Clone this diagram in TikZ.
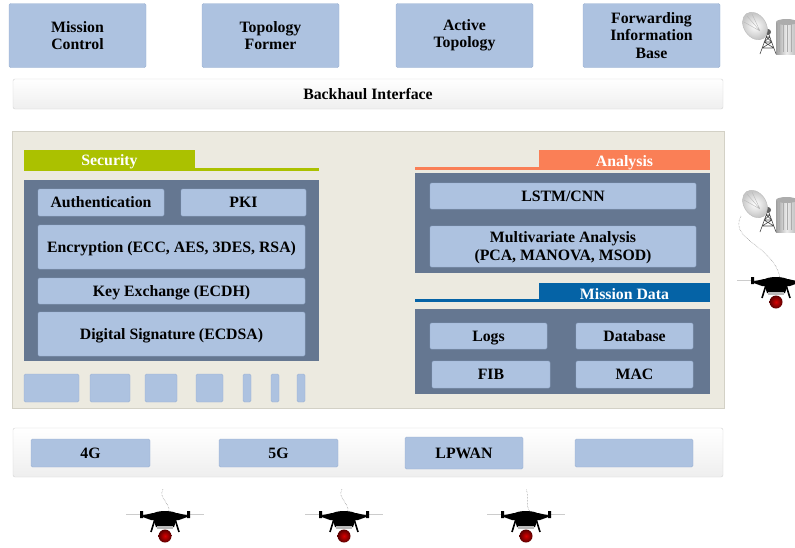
\documentclass[tikz,border=0pt]{standalone}
\usepackage{fontspec}
\setmainfont{Liberation Serif}
\definecolor{cellblue}{HTML}{ADC2E0}
\definecolor{celledge}{HTML}{9CB2D3}
\definecolor{slate}{HTML}{657791}
\definecolor{sand}{HTML}{ECEAE0}
\definecolor{sandedge}{HTML}{D3D1C6}
\definecolor{lime}{HTML}{ABC100}
\definecolor{coral}{HTML}{FA7F56}
\definecolor{ocean}{HTML}{0563A6}

\tikzset{
  % quadcopter, origin on the rotor plane
  drone/.pic={
    \draw[gray!40,line width=0.8pt] (-39,-1) -- (39,-1);
    \fill[black] (-25,-4) rectangle (-22,3) (22,-4) rectangle (25,3);
    \fill[black] (-25,1) -- (-12,-2) -- (12,-2) -- (25,1) -- (14,5) -- (-14,5) -- cycle;
    \fill[black] (-13,-1) .. controls (-8,-5) and (8,-5) .. (13,-1) -- cycle;
    \fill[black] (-12,3) -- (12,3) -- (9,12) -- (-9,12) -- cycle;
    \draw[black,line width=1.6pt] (-10,4) -- (-14,17) (10,4) -- (14,17);
    \fill[gray!55] (-8,11) rectangle (8,14);
    \shade[inner color=red!85!black,outer color=red!35!black] (0,21) circle (6.5);
    \coordinate (-top) at (4,-3);
  },
  % ground station: dish on a mast next to a server drum
  station/.pic={
    \shade[left color=gray!75,right color=gray!55,middle color=gray!15] (21,-4) rectangle (42,28);
    \foreach \u in {24,28,...,40} \draw[gray!65,line width=0.5pt] (\u,-2) -- (\u,26);
    \fill[gray!65] (31.5,-4) ellipse (10.5 and 3);
    \draw[gray!60!black,line width=0.6pt] (5,28) -- (13,6) -- (21,28)
      (7,22) -- (19,22) (9,16) -- (17,16) (11,11) -- (15,11)
      (7,22) -- (17,16) (19,22) -- (9,16) (9,16) -- (15,11) (17,16) -- (11,11);
    \fill[gray!75!black] (13,6) circle (3);
    \shade[inner color=white,outer color=gray!45,rotate=-55] (0,0) ellipse (15 and 11);
    \draw[gray!55,line width=0.4pt,rotate=-55] (0,0) ellipse (15 and 11);
    \draw[gray!55,line width=0.4pt] (-8,-10) -- (5,5) (-3,-12) -- (5,5) (-11,-4) -- (5,5);
    \coordinate (-feed) at (-14,12);
  }
}

\begin{document}
\begin{tikzpicture}[x=1pt,y=-1pt,
    cell/.style={fill=cellblue,draw=celledge,line width=0.4pt,rounded corners=1.5pt,inner sep=0pt,
      align=center,font=\bfseries\fontsize{15.8}{17.5}\selectfont,text height=10.2pt,text depth=0pt},
    multi/.style={text height=,text depth=},
    tray/.style={fill=slate,inner sep=0pt},
    rail/.style={draw=gray!35,rounded corners=2pt,top color=white,bottom color=gray!13,inner sep=0pt,
      font=\bfseries\fontsize{15.8}{17.5}\selectfont,text height=10.2pt,text depth=0pt},
    tab/.style={inner sep=0pt,text=white,font=\bfseries\fontsize{15.8}{17.5}\selectfont,
      text height=13pt,text depth=0pt},
    tether/.style={gray,densely dotted,line width=0.5pt}]
  \useasboundingbox (0,0) rectangle (795,547);

  % top row and backhaul
  \node[cell,multi,minimum width=137,minimum height=64] (mc) at (77.5,35.5) {Mission\\Control};
  \node[cell,multi,minimum width=137,minimum height=64] (tf) at (270.5,35.5) {Topology\\Former};
  \node[cell,multi,minimum width=137,minimum height=64] (at) at (464.5,35.5) {Active\\Topology};
  \node[cell,multi,minimum width=137,minimum height=64] (fib) at (651.5,35.5) {Forwarding\\Information\\Base};
  \node[rail,minimum width=710,minimum height=30] (bh) at (368,94) {Backhaul Interface};

  % middle panel
  \node[fill=sand,draw=sandedge,line width=0.5pt,inner sep=0pt,minimum width=712,minimum height=277] (core) at (368,269.5) {};

  % security block
  \fill[lime] (24,168) rectangle (319,171);
  \node[tab,fill=lime,minimum width=171,minimum height=18] (sec) at (109.5,159) {Security};
  \node[tray,minimum width=295,minimum height=181] (secbox) at (171.5,270.5) {};
  \node[cell,minimum width=126,minimum height=27] (auth) at (101,202.5) {Authentication};
  \node[cell,minimum width=125,minimum height=27] (pki) at (243.5,202.5) {PKI};
  \node[cell,minimum width=267,minimum height=44] (enc) at (171.5,247) {Encryption (ECC, AES, 3DES, RSA)};
  \node[cell,minimum width=267,minimum height=26] (kex) at (171.5,291) {Key Exchange (ECDH)};
  \node[cell,minimum width=267,minimum height=44] (sig) at (171.5,334) {Digital Signature (ECDSA)};
  \foreach \a/\b [count=\i] in {24/79,90/130,145/177,196/223,243/251,271/279,297/305}
    \node[cell,minimum width=\b-\a,minimum height=28] (slot\i) at ({(\a+\b)/2},388) {};

  % analysis block
  \fill[coral] (415,167) rectangle (710,170);
  \node[tab,fill=coral,minimum width=171,minimum height=19] (ana) at (624.5,159.5) {Analysis};
  \node[tray,minimum width=295,minimum height=100] (anabox) at (562.5,223) {};
  \node[cell,minimum width=266,minimum height=26] (lstm) at (563,196) {LSTM/CNN};
  \node[cell,multi,minimum width=266,minimum height=41,text depth=1pt] (mva) at (563,246.5) {Multivariate Analysis\\(PCA, MANOVA, MSOD)};

  % mission data block
  \fill[ocean] (415,299) rectangle (710,302);
  \node[tab,fill=ocean,minimum width=171,minimum height=19] (md) at (624.5,292.5) {Mission Data};
  \node[tray,minimum width=295,minimum height=85] (mdbox) at (562.5,351.5) {};
  \node[cell,minimum width=117,minimum height=26] (logs) at (488.5,336) {Logs};
  \node[cell,minimum width=117,minimum height=26] (db) at (634.5,336) {Database};
  \node[cell,minimum width=118,minimum height=27] (fibd) at (491,374.5) {FIB};
  \node[cell,minimum width=117,minimum height=27] (mac) at (634.5,374.5) {MAC};

  % radio access
  \node[rail,minimum width=710,minimum height=49] (ran) at (368,452.5) {};
  \node[cell,minimum width=119,minimum height=28] (g4) at (90.5,453) {4G};
  \node[cell,minimum width=119,minimum height=28] (g5) at (278.5,453) {5G};
  \node[cell,minimum width=118,minimum height=32] (lp) at (464,453) {LPWAN};
  \node[cell,minimum width=118,minimum height=28] (spare) at (634,453) {};

  % ground stations and drones
  \pic (st1) at (755,26) {station};
  \pic (st2) at (755,204) {station};
  \pic (dr1) at (165,515) {drone};
  \pic (dr2) at (344,515) {drone};
  \pic (dr3) at (526,515) {drone};
  \pic (dr4) at (776,281) {drone};

  \coordinate (up1) at (163,489);
  \coordinate (up2) at (342,489);
  \coordinate (up3) at (526,489);
  \draw[tether] (dr1-top) .. controls (170,502) and (158,498) .. (up1);
  \draw[tether] (dr2-top) .. controls (349,502) and (337,498) .. (up2);
  \draw[tether] (dr3-top) .. controls (524,502) and (530,498) .. (up3);
  \draw[tether] (st2-feed) .. controls (728,240) and (774,245) .. (dr4-top);
\end{tikzpicture}
\end{document}
